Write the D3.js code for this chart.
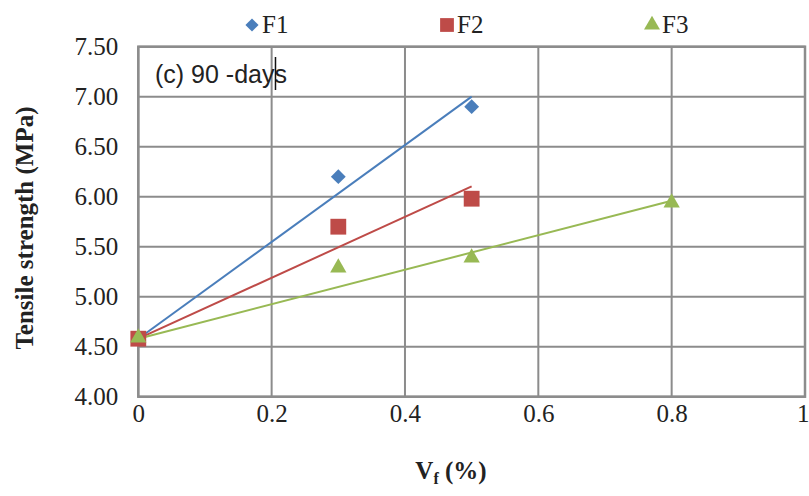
<!DOCTYPE html>
<html><head><meta charset="utf-8">
<script src="https://cdn.jsdelivr.net/npm/d3@7"></script>
<style>body{margin:0;background:#fff}svg{display:block}</style>
</head><body>
<svg id="c" width="809" height="496"></svg>
<script>
const seriesNames = ["F1","F2","F3"];
const colors = ["#4a7ebb","#be4b48","#98b954"];
const symbols = [d3.symbolDiamond2, d3.symbolSquare, d3.symbolTriangle];
const xF1 = [0, 0.3, 0.5];   const yF1 = [4.58, 6.20, 6.90];
const xF2 = [0, 0.3, 0.5];   const yF2 = [4.58, 5.70, 5.98];
const xF3 = [0, 0.3, 0.5, 0.8]; const yF3 = [4.58, 5.28, 5.38, 5.93];
const xTicks = [0, 0.2, 0.4, 0.6, 0.8, 1];
const yTicks = [4.00,4.50,5.00,5.50,6.00,6.50,7.00,7.50];
const trendIntercept = 4.58;

const series = [
  {name:"F1", xs:xF1, ys:yF1},
  {name:"F2", xs:xF2, ys:yF2},
  {name:"F3", xs:xF3, ys:yF3}
];

const svg = d3.select("#c");
const L=138.3, R=805, T=46.7, B=396.7;
const x = d3.scaleLinear().domain([0,1]).range([L,R]);
const y = d3.scaleLinear().domain([4,7.5]).range([B,T]);
const grid = "#8c8c8c";
const serif = "Liberation Serif";

// gridlines
svg.append("g").selectAll("line").data(xTicks).join("line")
  .attr("x1",d=>x(d)).attr("x2",d=>x(d)).attr("y1",T).attr("y2",B)
  .attr("stroke",grid).attr("stroke-width",2);
svg.append("g").selectAll("line").data(yTicks).join("line")
  .attr("x1",L).attr("x2",R).attr("y1",d=>y(d)).attr("y2",d=>y(d))
  .attr("stroke",grid).attr("stroke-width",2);
svg.append("rect").attr("x",L).attr("y",T).attr("width",R-L).attr("height",B-T)
  .attr("fill","none").attr("stroke",grid).attr("stroke-width",2.5);

// axes tick labels
const yAxis = d3.axisLeft(y).tickValues(yTicks).tickFormat(d3.format(".2f")).tickSize(0).tickPadding(20);
const ga = svg.append("g").attr("transform",`translate(${L},0)`).call(yAxis);
ga.select(".domain").remove();
ga.selectAll("text").attr("font-family",serif).attr("font-size",25).attr("fill","#222");
const xAxis = d3.axisBottom(x).tickValues(xTicks).tickFormat(d=>d3.format("")(d)).tickSize(0);
const gx = svg.append("g").attr("transform",`translate(0,${B})`).call(xAxis);
gx.select(".domain").remove();
gx.selectAll("text").attr("dy",null).attr("y",25)
  .attr("font-family",serif).attr("font-size",25).attr("fill","#222");
// keep the last label inside the picture edge
gx.selectAll("text").filter(d=>d===1).attr("text-anchor","end").attr("dx",4);

// trend lines (linear fit, intercept fixed)
series.forEach((s,i)=>{
  let num=0, den=0;
  s.xs.forEach((xv,j)=>{ num += xv*(s.ys[j]-trendIntercept); den += xv*xv; });
  const slope = num/den;
  const xmax = d3.max(s.xs);
  svg.append("line")
    .attr("x1",x(0)).attr("y1",y(trendIntercept))
    .attr("x2",x(xmax)).attr("y2",y(trendIntercept+slope*xmax))
    .attr("stroke",colors[i]).attr("stroke-width",2);
});

// markers
const sizes=[140,250,115];
const yOff=[0,0,-1];
[0,1,2].forEach(i=>{
  const s=series[i];
  svg.append("g").selectAll("path").data(s.xs.map((xv,j)=>[xv,s.ys[j]])).join("path")
    .attr("transform",d=>`translate(${x(d[0])},${y(d[1])+yOff[i]})`)
    .attr("d",d3.symbol().type(symbols[i]).size(sizes[i]))
    .attr("fill",colors[i]);
});

// legend
const legX=[252,447,652];
const legSizes=[110,190,110];
seriesNames.forEach((n,i)=>{
  svg.append("path").attr("transform",`translate(${legX[i]},25)`)
    .attr("d",d3.symbol().type(symbols[i]).size(legSizes[i])).attr("fill",colors[i]);
  svg.append("text").attr("x",legX[i]+10).attr("y",33).text(n)
    .attr("font-family",serif).attr("font-size",25).attr("fill","#222");
});

// annotation
const ann = svg.append("text").attr("x",155).attr("y",83)
  .attr("font-family","Liberation Sans").attr("font-size",25).attr("fill","#222");
const t1 = ann.append("tspan").text("(c) 90 -day");
ann.append("tspan").text("s");
const cx = 155 + t1.node().getComputedTextLength() + 1;
svg.append("line").attr("x1",cx).attr("x2",cx).attr("y1",57).attr("y2",90)
  .attr("stroke","#111").attr("stroke-width",1.5);

// axis titles
svg.append("text").attr("transform","translate(33,228) rotate(-90)").attr("text-anchor","middle")
  .attr("font-family",serif).attr("font-weight","bold").attr("font-size",25).attr("fill","#222")
  .text("Tensile strength (MPa)");
const xt = svg.append("text").attr("x",451).attr("y",479).attr("text-anchor","middle")
  .attr("font-family",serif).attr("font-weight","bold").attr("font-size",25).attr("fill","#222");
xt.append("tspan").text("V");
xt.append("tspan").attr("font-size",16).attr("dy",5).text("f");
xt.append("tspan").attr("dy",-5).text("  (%)");
</script>
</body></html>
